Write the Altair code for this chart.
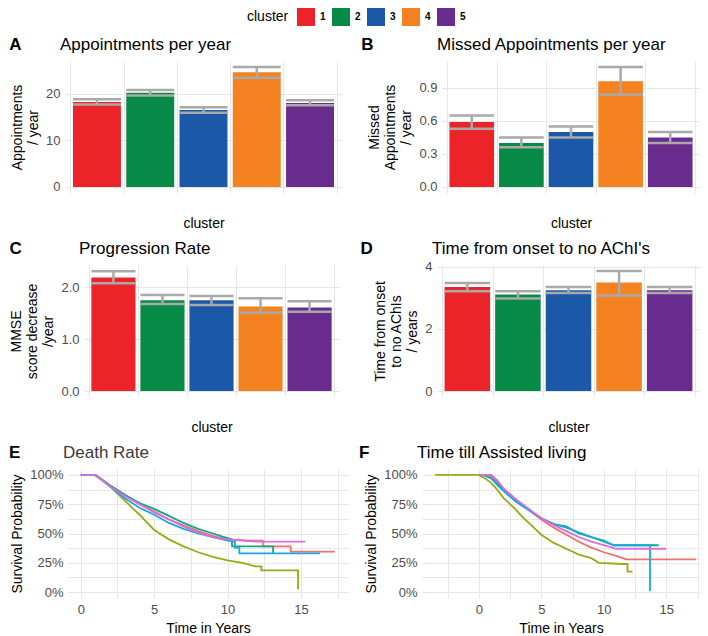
import altair as alt
import pandas as pd

FONT = "Liberation Sans"
GRID = "#E6E6E6"
ERR = "#A9A9A9"
TICKLAB = "#4D4D4D"

# ---------------- bar panel data ----------------
clusters = ["1", "2", "3", "4", "5"]
cluster_pos = [1, 2, 3, 4, 5]
bar_colors = ["#EC2329", "#078A45", "#1B58A7", "#F58220", "#682C8F"]

appt_mean = [18.2, 20.2, 16.5, 24.6, 18.0]
appt_lo = [17.7, 19.6, 15.9, 23.4, 17.5]
appt_hi = [18.8, 20.8, 17.1, 25.7, 18.6]

missed_mean = [0.59, 0.40, 0.50, 0.96, 0.45]
missed_lo = [0.53, 0.36, 0.45, 0.84, 0.40]
missed_hi = [0.65, 0.45, 0.55, 1.09, 0.50]

prog_mean = [2.19, 1.75, 1.75, 1.63, 1.61]
prog_lo = [2.08, 1.68, 1.66, 1.51, 1.53]
prog_hi = [2.31, 1.85, 1.83, 1.79, 1.73]

achi_mean = [3.34, 3.10, 3.24, 3.49, 3.24]
achi_lo = [3.21, 2.97, 3.15, 3.07, 3.15]
achi_hi = [3.47, 3.21, 3.34, 3.86, 3.34]

bar_x_ticks = [0.5, 1, 1.5, 2, 2.5, 3, 3.5, 4, 4.5, 5, 5.5]
appt_y_ticks = [0, 5, 10, 15, 20, 25]
missed_y_ticks = [0, 0.15, 0.3, 0.45, 0.6, 0.75, 0.9, 1.05]
prog_y_ticks = [0, 0.25, 0.5, 0.75, 1, 1.25, 1.5, 1.75, 2, 2.25]
achi_y_ticks = [0, 0.5, 1, 1.5, 2, 2.5, 3, 3.5, 4]

# ---------------- survival panel data ----------------
km_groups = ["km1", "km2", "km3", "km4", "km5"]
km_colors = ["#F0706A", "#9BAA14", "#13A97A", "#18A8DE", "#DE6AE6"]
surv_y_ticks = [0, 0.125, 0.25, 0.375, 0.5, 0.625, 0.75, 0.875, 1.0]
death_x_ticks = [0, 2.5, 5, 7.5, 10, 12.5, 15, 17.5]
assist_x_ticks = [-2.5, 0, 2.5, 5, 7.5, 10, 12.5, 15, 17.5]

# Death rate (E)
death_t1 = [0, 1.0, 2, 3, 4, 5, 6, 7, 8, 9, 10, 11.5, 12.4, 12.4, 14.3, 14.3, 17.3]
death_s1 = [1, 1, .91, .83, .75, .69, .62, .57, .52, .48, .45, .44, .44, .39, .39, .345, .345]
death_lo1 = [1, 1, .89, .80, .72, .66, .59, .53, .48, .44, .40, .38, .38, .32, .32, .25, .25]
death_hi1 = [1, 1, .93, .86, .78, .72, .65, .61, .56, .52, .50, .50, .50, .46, .46, .47, .47]

death_t2 = [0, 0.9, 1.5, 2, 2.5, 3, 4, 5, 6, 7, 8, 9, 10, 11, 11.9, 12.3, 12.3, 14.8, 14.8]
death_s2 = [1, 1, .95, .90, .84, .78, .66, .53, .45, .39, .34, .30, .27, .25, .22, .22, .185, .185, .025]
death_lo2 = [1, 1, .94, .88, .82, .76, .64, .51, .43, .37, .32, .28, .25, .22, .19, .19, .15, .15, .15]
death_hi2 = [1, 1, .96, .92, .86, .80, .68, .55, .47, .41, .36, .32, .29, .28, .25, .25, .22, .22, .22]

death_t3 = [0, 1.0, 2, 3, 4, 5, 6, 7, 8, 9, 10, 10.3, 10.3, 13.1, 13.1]
death_s3 = [1, 1, .91, .83, .76, .71, .65, .59, .54, .50, .46, .45, .39, .39, .33]
death_lo3 = [1, 1, .89, .81, .73, .68, .62, .56, .50, .46, .41, .40, .32, .32, .32]
death_hi3 = [1, 1, .93, .85, .79, .74, .68, .62, .58, .54, .51, .50, .46, .46, .46]

death_t4 = [0, 1.0, 2, 3, 4, 5, 6, 7, 8, 9, 10, 10.5, 10.5, 10.8, 10.8, 16.3]
death_s4 = [1, 1, .90, .80, .72, .66, .59, .54, .50, .47, .44, .43, .38, .38, .33, .33]
death_lo4 = [1, 1, .88, .77, .69, .62, .55, .50, .46, .42, .38, .37, .31, .31, .24, .24]
death_hi4 = [1, 1, .92, .83, .75, .69, .63, .58, .54, .52, .50, .49, .45, .45, .46, .46]

death_t5 = [0, 1.0, 2, 3, 4, 5, 6, 7, 8, 9, 10, 11, 12, 15.3]
death_s5 = [1, 1, .90, .82, .75, .68, .62, .56, .51, .47, .45, .44, .43, .43]
death_lo5 = [1, 1, .88, .79, .72, .65, .58, .52, .47, .43, .40, .38, .36, .36]
death_hi5 = [1, 1, .92, .85, .78, .71, .66, .60, .55, .51, .50, .50, .50, .50]

# Time till assisted living (F)
assist_t1 = [0, 0.8, 1.5, 2, 3, 4, 5, 6, 7, 8, 9, 10, 11, 11.8, 17.4]
assist_s1 = [1, 1, .94, .88, .78, .70, .62, .55, .49, .43, .38, .34, .31, .28, .28]
assist_lo1 = [1, 1, .92, .86, .76, .68, .60, .52, .46, .40, .35, .30, .27, .22, .22]
assist_hi1 = [1, 1, .96, .90, .80, .72, .64, .58, .52, .46, .41, .38, .35, .34, .34]

assist_t2 = [-3.5, 0, 0.5, 1, 1.5, 2, 2.5, 3, 3.5, 4, 5, 6, 7, 8, 9, 9.6, 11.5, 11.9, 11.9, 12.3]
assist_s2 = [1, 1, .97, .93, .87, .80, .75, .70, .64, .59, .49, .42, .37, .32, .29, .25, .24, .24, .175, .175]
assist_lo2 = [1, 1, .96, .91, .85, .78, .73, .67, .61, .56, .46, .39, .34, .29, .26, .22, .20, .20, .14, .14]
assist_hi2 = [1, 1, .98, .95, .89, .82, .77, .73, .67, .62, .52, .45, .40, .35, .32, .28, .28, .28, .21, .21]

assist_t3 = [0, 0.5, 1, 1.5, 2, 2.5, 3, 4, 5, 6, 7, 7.5, 8, 9, 10, 10.8, 14.4]
assist_s3 = [1, 1, .97, .92, .87, .82, .77, .70, .63, .58, .56, .53, .50, .47, .44, .40, .40]
assist_lo3 = [1, 1, .95, .90, .85, .79, .74, .67, .60, .54, .52, .48, .45, .42, .38, .33, .33]
assist_hi3 = [1, 1, .99, .94, .89, .85, .80, .73, .66, .62, .60, .58, .55, .52, .50, .47, .47]

assist_t4 = [0, 0.3, 1, 1.5, 2, 3, 4, 5, 6, 7, 8, 9, 10, 10.8, 13.7, 13.7]
assist_s4 = [1, 1, .97, .91, .86, .77, .70, .63, .58, .55, .51, .47, .43, .40, .40, .01]
assist_lo4 = [1, 1, .95, .89, .83, .74, .67, .60, .54, .50, .45, .41, .36, .32, .32, .32]
assist_hi4 = [1, 1, .99, .93, .89, .80, .73, .66, .62, .60, .57, .54, .52, .50, .50, .50]

assist_t5 = [0, 1.0, 1.5, 2, 3, 4, 5, 6, 7, 8, 9, 10, 11, 15]
assist_s5 = [1, 1, .95, .88, .79, .71, .63, .57, .52, .47, .43, .40, .37, .37]
assist_lo5 = [1, 1, .93, .86, .77, .68, .60, .54, .48, .43, .39, .35, .31, .31]
assist_hi5 = [1, 1, .97, .90, .81, .74, .66, .60, .56, .51, .47, .45, .43, .43]

# one shared colour scale: bar clusters + survival groups (legend shows clusters only)
COLOR_SCALE = alt.Scale(domain=clusters + km_groups, range=bar_colors + km_colors)

LEG = alt.Legend(
    title="cluster", values=clusters, orient="none", legendX=239, legendY=-53,
    direction="horizontal", titleOrient="left", titleFontSize=14, titleFontWeight="normal",
    titleColor="black", titlePadding=8,
    symbolType="square", symbolSize=324, symbolStrokeWidth=0, symbolOpacity=1,
    labelFontSize=10, labelFontWeight="bold", labelColor="black", labelOffset=5, columnPadding=6,
)

TY = -16  # vertical position of panel letter / title above the plot area


def annotations(letter, letter_dx, title, title_color="black"):
    lab = alt.Chart(pd.DataFrame({"t": [letter]})).mark_text(
        align="left", baseline="middle", fontSize=17, fontWeight="bold", color="black"
    ).encode(text="t:N", x=alt.value(-letter_dx), y=alt.value(TY))
    ttl = alt.Chart(pd.DataFrame({"t": [title]})).mark_text(
        align="left", baseline="middle", fontSize=17, color=title_color
    ).encode(text="t:N", x=alt.value(-5), y=alt.value(TY))
    return [lab, ttl]


spacer_df = pd.DataFrame({"v": [0]})


def spacer(w):
    return alt.Chart(spacer_df).mark_point(opacity=0, size=0).encode(
        x=alt.value(0), y=alt.value(0)).properties(width=w, height=1)


def bar_panel(letter, letter_dx, title, ytitle, mean, lo, hi, ydom, yticks, ylab_expr, w, h):
    df = pd.DataFrame({"cluster": clusters, "pos": cluster_pos, "mean": mean, "lo": lo, "hi": hi})
    base = alt.Chart(df).transform_calculate(x0="datum.pos - 0.45", x1="datum.pos + 0.45", zero="0")
    xs = alt.Scale(domain=[0.4, 5.6], nice=False, zero=False)
    ys = alt.Scale(domain=ydom, nice=False, zero=False)
    xax = alt.Axis(title="cluster", values=bar_x_ticks,
                   labelExpr="datum.value % 1 == 0 ? format(datum.value, 'd') : ''")
    yax = alt.Axis(title=ytitle, values=yticks, labelExpr=ylab_expr)
    bars = base.mark_bar().encode(
        x=alt.X("x0:Q", scale=xs, axis=xax),
        x2="x1:Q",
        y=alt.Y("mean:Q", scale=ys, axis=yax),
        y2="zero:Q",
        color=alt.Color("cluster:N", scale=COLOR_SCALE, legend=LEG),
    )
    cap_hi = base.mark_rule(color=ERR, strokeWidth=2.5).encode(x="x0:Q", x2="x1:Q", y="hi:Q")
    cap_lo = base.mark_rule(color=ERR, strokeWidth=2.5).encode(x="x0:Q", x2="x1:Q", y="lo:Q")
    whisker = base.mark_rule(color=ERR, strokeWidth=2.5).encode(x="pos:Q", y="lo:Q", y2="hi:Q")
    return alt.layer(bars, cap_hi, cap_lo, whisker, *annotations(letter, letter_dx, title)).properties(
        width=w, height=h)


def km_panel(letter, letter_dx, title, title_color, series, xdom, xticks, w, h):
    rows = []
    for g, (t, s, lo, hi) in zip(km_groups, series):
        for i, (a, b, c, d) in enumerate(zip(t, s, lo, hi)):
            rows.append({"grp": g, "idx": i, "t": a, "s": b, "lo": c, "hi": d})
    df = pd.DataFrame(rows)
    color = alt.Color("grp:N", scale=COLOR_SCALE, legend=LEG)
    xs = alt.Scale(domain=xdom, nice=False, zero=False)
    ys = alt.Scale(domain=[-0.05, 1.05], nice=False, zero=False)
    xax = alt.Axis(title="Time in Years", values=xticks,
                   labelExpr="datum.value % 5 == 0 ? format(datum.value, 'd') : ''")
    yax = alt.Axis(title="Survival Probability", values=surv_y_ticks,
                   labelExpr="(datum.value * 4) % 1 == 0 ? format(datum.value, '.0%') : ''")
    band = alt.Chart(df).mark_area(opacity=0.22).encode(
        x=alt.X("t:Q", scale=xs, axis=xax),
        y=alt.Y("lo:Q", scale=ys, axis=yax),
        y2="hi:Q",
        color=color,
        order="idx:Q",
    )
    line = alt.Chart(df).mark_line(strokeWidth=1.8).encode(
        x=alt.X("t:Q", scale=xs, axis=xax),
        y=alt.Y("s:Q", scale=ys, axis=yax),
        color=color,
        order="idx:Q",
    )
    return alt.layer(band, line, *annotations(letter, letter_dx, title, title_color)).properties(
        width=w, height=h)


A = bar_panel("A", 55.7, "Appointments per year", ["Appointments", "/ year"],
              appt_mean, appt_lo, appt_hi, [-1.3, 27.0], appt_y_ticks,
              "datum.value % 10 == 0 ? format(datum.value, 'd') : ''", 277, 132)
B = bar_panel("B", 80.7, "Missed Appointments per year", ["Missed", "Appointments", "/ year"],
              missed_mean, missed_lo, missed_hi, [-0.055, 1.145], missed_y_ticks,
              "abs(datum.value / 0.3 - round(datum.value / 0.3)) < 0.01 ? format(datum.value, '.1f') : ''",
              258, 132)
C = bar_panel("C", 74.4, "Progression Rate", ["MMSE", "score decrease", "/year"],
              prog_mean, prog_lo, prog_hi, [-0.115, 2.43], prog_y_ticks,
              "abs(datum.value / 0.5 - round(datum.value / 0.5)) < 0.01 ? format(datum.value, '.1f') : ''",
              255, 132)
D = bar_panel("D", 76.4, "Time from onset to no AChI's", ["Time from onset", "to no AChIs", "/ years"],
              achi_mean, achi_lo, achi_hi, [-0.19, 4.05], achi_y_ticks,
              "datum.value % 1 == 0 ? format(datum.value, 'd') : ''", 263, 132)

E = km_panel("E", 59, "Death Rate", "#3A3A3A",
             [(death_t1, death_s1, death_lo1, death_hi1),
              (death_t2, death_s2, death_lo2, death_hi2),
              (death_t3, death_s3, death_lo3, death_hi3),
              (death_t4, death_s4, death_lo4, death_hi4),
              (death_t5, death_s5, death_lo5, death_hi5)],
             [-0.87, 18.2], death_x_ticks, 280, 129)
F = km_panel("F", 63, "Time till Assisted living", "black",
             [(assist_t1, assist_s1, assist_lo1, assist_hi1),
              (assist_t2, assist_s2, assist_lo2, assist_hi2),
              (assist_t3, assist_s3, assist_lo3, assist_hi3),
              (assist_t4, assist_s4, assist_lo4, assist_hi4),
              (assist_t5, assist_s5, assist_lo5, assist_hi5)],
             [-4.55, 17.7], assist_x_ticks, 278, 129)

row1 = alt.hconcat(spacer(1), A, spacer(19), B, spacing=0)
row2 = alt.hconcat(spacer(1), C, spacer(21), D, spacing=0)
row3 = alt.hconcat(spacer(1), E, spacer(11), F, spacing=0)

chart = alt.vconcat(row1, row2, row3, spacing=10).properties(padding=0).configure(
    font=FONT
).configure_view(stroke=None).configure_axis(
    grid=True, gridColor=GRID, gridWidth=1, domain=False, ticks=False,
    labelColor=TICKLAB, labelFontSize=13, labelFont=FONT, labelPadding=5, labelFlush=False,
    labelOverlap=False, titleFont=FONT, titleFontSize=14, titleFontWeight="normal",
    titleColor="black", titlePadding=5,
).configure_text(font=FONT)

chart.save("out.html", embed_options={"renderer": "svg", "actions": False})
